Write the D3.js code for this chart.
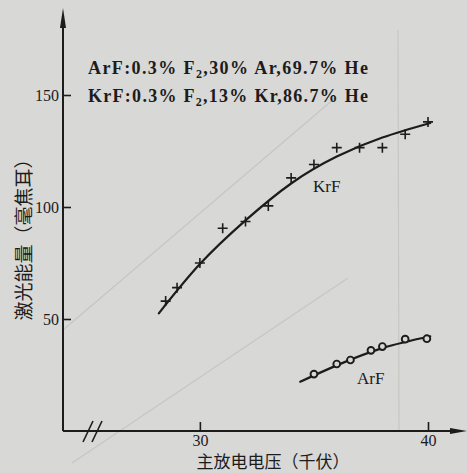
<!DOCTYPE html>
<html>
<head>
<meta charset="utf-8">
<script src="https://cdn.jsdelivr.net/npm/d3@7"></script>
<style>
  body { margin: 0; background: #d8d8d6; }
  svg { display: block; }
  .tick text { font-family: "Liberation Serif", "DejaVu Serif", serif; font-size: 16px; fill: #1c1c1c; }
  .tick line { stroke: #1c1c1c; stroke-width: 1.6; }
</style>
</head>
<body>
<div id="chart"></div>
<script>
// data

// KrF measurements (crosses)
const krfVolt = [28.5, 29, 30, 31, 32, 33, 34, 35, 36, 37, 38, 39, 40];
const krfEnergy = [58, 64, 75, 90.5, 93.5, 100.5, 113, 119, 126.5, 126.5, 126.5, 132.5, 138];
// KrF fitted curve
const krfFitVolt = [28.2, 30, 32, 34, 36, 38, 40.1];
const krfFitEnergy = [52.5, 74.5, 94, 110.5, 122.5, 131, 137.5];

// ArF measurements (circles)
const arfVolt = [35, 36, 36.6, 37.5, 38, 39, 39.95];
const arfEnergy = [25.4, 29.9, 31.7, 36, 37.7, 41, 41.2];
// ArF fitted curve
const arfFitVolt = [34.4, 36, 38, 40.1];
const arfFitEnergy = [22, 29.3, 37, 42.3];

const xTicks = [30, 40];
const yTicks = [50, 100, 150];

const ink = '#1c1c1c';
const width = 467, height = 473;

const svg = d3.select('#chart')
    .append('svg')
    .attr('width', width)
    .attr('height', height);

// scales
let x = d3.scaleLinear().domain([24, 40]).range([63, 428]);
let y = d3.scaleLinear().domain([0, 150]).range([431, 95]);

// faint show-through from the back of the page
const ghost = svg.append('g').attr('stroke', '#c6c6c3').attr('stroke-width', 1.2);
ghost.append('line').attr('x1', 63).attr('y1', 330).attr('x2', 335).attr('y2', 98);
ghost.append('line').attr('x1', 72).attr('y1', 463).attr('x2', 348).attr('y2', 278);
ghost.append('line').attr('x1', 398).attr('y1', 30).attr('x2', 399).attr('y2', 430);

// axes
svg.append('g')
    .attr('transform', `translate(0,${y(0)})`)
    .call(d3.axisBottom(x).tickValues(xTicks).tickSize(-9).tickPadding(4))
    .call(g => g.select('.domain').remove());

svg.append('g')
    .attr('transform', `translate(${x(24)},0)`)
    .call(d3.axisLeft(y).tickValues(yTicks).tickSize(-8).tickPadding(4))
    .call(g => g.select('.domain').remove());

// axis lines with arrows
svg.append('line')
    .attr('x1', x(24)).attr('y1', y(0))
    .attr('x2', x(24)).attr('y2', 22)
    .attr('stroke', ink).attr('stroke-width', 2);
svg.append('path')
    .attr('d', `M${x(24)},8 L${x(24) - 3},28 L${x(24) + 3},28 Z`)
    .attr('fill', ink);

svg.append('line')
    .attr('x1', x(24)).attr('y1', y(0))
    .attr('x2', 455).attr('y2', y(0))
    .attr('stroke', ink).attr('stroke-width', 2);
svg.append('path')
    .attr('d', `M467,${y(0)} L450,${y(0) - 3} L450,${y(0) + 3} Z`)
    .attr('fill', ink);

// axis break marks
[0, 9].forEach(dx => {
    svg.append('line')
        .attr('x1', 83 + dx).attr('y1', 442)
        .attr('x2', 93 + dx).attr('y2', 421)
        .attr('stroke', ink).attr('stroke-width', 1.6);
});

// fitted curves
let line = d3.line()
    .x(d => x(d[0]))
    .y(d => y(d[1]))
    .curve(d3.curveNatural);

svg.append('path')
    .datum(krfFitVolt.map((v, i) => [v, krfFitEnergy[i]]))
    .attr('d', line)
    .attr('fill', 'none')
    .attr('stroke', ink)
    .attr('stroke-width', 2.2)
    .attr('stroke-linecap', 'round');

svg.append('path')
    .datum(arfFitVolt.map((v, i) => [v, arfFitEnergy[i]]))
    .attr('d', line)
    .attr('fill', 'none')
    .attr('stroke', ink)
    .attr('stroke-width', 2.2)
    .attr('stroke-linecap', 'round');

// KrF crosses
svg.selectAll('.krf')
    .data(krfVolt.map((v, i) => [v, krfEnergy[i]]))
    .enter()
    .append('path')
    .attr('class', 'krf')
    .attr('d', d => `M${x(d[0]) - 5},${y(d[1])}h10M${x(d[0])},${y(d[1]) - 5}v10`)
    .attr('stroke', ink)
    .attr('stroke-width', 1.6);

// ArF circles
svg.selectAll('.arf')
    .data(arfVolt.map((v, i) => [v, arfEnergy[i]]))
    .enter()
    .append('circle')
    .attr('class', 'arf')
    .attr('cx', d => x(d[0]))
    .attr('cy', d => y(d[1]))
    .attr('r', 3.4)
    .attr('fill', '#d8d8d6')
    .attr('stroke', ink)
    .attr('stroke-width', 1.9);

// series labels
const serif = '"Liberation Serif", "DejaVu Serif", serif';
svg.append('text')
    .attr('x', 313).attr('y', 192)
    .attr('font-family', serif).attr('font-size', 17)
    .attr('fill', ink)
    .text('KrF');
svg.append('text')
    .attr('x', 357).attr('y', 384)
    .attr('font-family', serif).attr('font-size', 17)
    .attr('fill', ink)
    .text('ArF');

// gas mixtures
const mixes = [
    ['ArF:0.3% F', '2', ',30% Ar,69.7% He'],
    ['KrF:0.3% F', '2', ',13% Kr,86.7% He']
];
mixes.forEach((m, i) => {
    let t = svg.append('text')
        .attr('x', 88).attr('y', 74 + i * 28)
        .attr('font-family', serif).attr('font-size', 18)
        .attr('font-weight', 'bold')
        .attr('fill', ink)
        .attr('textLength', 280)
        .attr('lengthAdjust', 'spacing');
    t.append('tspan').text(m[0]);
    t.append('tspan').attr('font-size', 12).attr('dy', 4).text(m[1]);
    t.append('tspan').attr('dy', -4).text(m[2]);
});

// axis titles
svg.append('text')
    .attr('x', 273).attr('y', 468)
    .attr('text-anchor', 'middle')
    .attr('font-family', '"Noto Sans CJK SC", sans-serif')
    .attr('font-size', 17)
    .attr('fill', ink)
    .text('主放电电压（千伏）');

svg.append('text')
    .attr('transform', 'translate(31,235) rotate(-90)')
    .attr('text-anchor', 'middle')
    .attr('font-family', '"Noto Sans CJK SC", sans-serif')
    .attr('font-size', 19)
    .attr('fill', ink)
    .text('激光能量（毫焦耳）');
</script>
</body>
</html>
